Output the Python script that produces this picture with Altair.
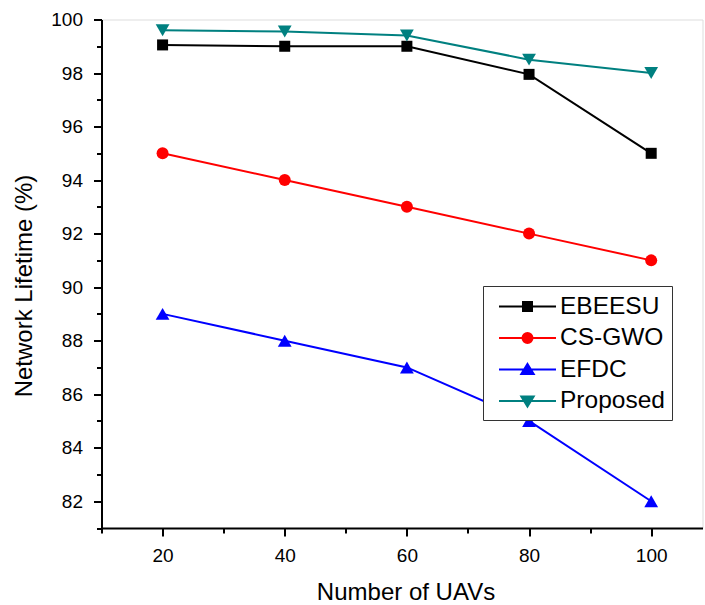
import altair as alt
import pandas as pd

# ---- data ----
uavs = [20, 40, 60, 80, 100]
ebeesu = [99.05, 99.0, 99.0, 97.95, 95.0]
cs_gwo = [95.0, 94.0, 93.0, 92.0, 91.0]
efdc = [89.0, 88.0, 87.0, 85.0, 82.0]
proposed = [99.6, 99.55, 99.4, 98.5, 98.0]

series_names = ["EBEESU", "CS-GWO", "EFDC", "Proposed"]
series_values = [ebeesu, cs_gwo, efdc, proposed]
series_colors = ["#000000", "#FF0000", "#0000FF", "#008080"]
marker_shapes = ["square", "circle", "triangle-up", "triangle-down"]
marker_sizes = [121, 144, 190, 190]

x_tick_values = [10, 20, 30, 40, 50, 60, 70, 80, 90, 100]
y_tick_values = list(range(81, 101))

# legend glyph: a line with a marker on it, drawn as a custom symbol path
SYM = 24.5            # symbol box side (px)
U = SYM / 2.0         # px per path unit


def u(px):
    return round(px / U, 4)


L = u(28.5)
sq = u(4.5)
cr = u(5.0)
tw = u(6.2)
th1 = u(5.6)
th2 = u(4.6)
legend_paths = [
    f"M{-L},0L{L},0M{-sq},{-sq}H{sq}V{sq}H{-sq}Z",
    f"M{-L},0L{L},0M{-cr},0A{cr},{cr} 0 1,0 {cr},0A{cr},{cr} 0 1,0 {-cr},0Z",
    f"M{-L},0L{L},0M0,{-th1}L{tw},{th2}L{-tw},{th2}Z",
    f"M{-L},0L{L},0M0,{th1}L{tw},{-th2}L{-tw},{-th2}Z",
]

rows = []
for name, vals in zip(series_names, series_values):
    for x, v in zip(uavs, vals):
        rows.append({"series": name, "uavs": x, "lifetime": v})
df = pd.DataFrame(rows)

FONT = "Liberation Sans"

x_axis = alt.Axis(
    values=x_tick_values,
    labelExpr="datum.value % 20 == 0 ? datum.label : ''",
    tickSize={"condition": {"test": "datum.value % 20 == 0", "value": 8}, "value": 5},
    tickWidth=2, tickColor="black", domainWidth=2, domainColor="black",
    labelFont=FONT, labelFontSize=19, labelColor="black", labelPadding=10,
    labelFlush=False, labelOverlap=False, grid=False,
    title="Number of UAVs", titleFont=FONT, titleFontSize=24, titleFontWeight="normal",
    titleColor="black", titleX=304, titleY=64, titleBaseline="middle", titleAlign="center",
)
y_axis = alt.Axis(
    values=y_tick_values,
    labelExpr="datum.value % 2 == 0 ? datum.label : ''",
    tickSize={"condition": {"test": "datum.value % 2 == 0", "value": 8}, "value": 5},
    tickWidth=2, tickColor="black", domainWidth=2, domainColor="black",
    labelFont=FONT, labelFontSize=19, labelColor="black", labelPadding=11,
    labelFlush=False, labelOverlap=False, grid=False,
    title="Network Lifetime (%)", titleFont=FONT, titleFontSize=24, titleFontWeight="normal",
    titleColor="black", titleAngle=270, titleX=-77, titleY=266, titleBaseline="middle",
    titleAlign="center",
)

base = alt.Chart(df).encode(
    x=alt.X("uavs:Q", scale=alt.Scale(domain=[10, 108.4], nice=False, zero=False), axis=x_axis),
    y=alt.Y("lifetime:Q", scale=alt.Scale(domain=[81, 100], nice=False, zero=False), axis=y_axis),
)

leg = dict(
    title=None, orient="none", legendX=381.5, legendY=266.5,
    strokeColor="#333333", fillColor="white", padding=7,
    labelFont=FONT, labelFontSize=24.5, labelColor="black", labelOffset=19,
    symbolSize=SYM * SYM, symbolStrokeWidth=2, symbolOffset=24, symbolOpacity=1,
    rowPadding=6.5, zindex=1,
)

# legend-only layer (tiny marks hidden under the visible markers)
legend_layer = base.mark_point(filled=True, size=1, strokeWidth=0, opacity=1).encode(
    fill=alt.Fill("series:N", scale=alt.Scale(domain=series_names, range=series_colors),
                  legend=alt.Legend(**leg)),
    stroke=alt.Stroke("series:N", scale=alt.Scale(domain=series_names, range=series_colors),
                      legend=alt.Legend(**leg)),
    shape=alt.Shape("series:N", scale=alt.Scale(domain=series_names, range=legend_paths),
                    legend=alt.Legend(**leg)),
)

lines = base.mark_line(strokeWidth=2).encode(
    color=alt.Color("series:N", scale=alt.Scale(domain=series_names, range=series_colors), legend=None)
)

point_layers = []
for name, col, shp, sz in zip(series_names, series_colors, marker_shapes, marker_sizes):
    point_layers.append(
        base.transform_filter(alt.datum.series == name).mark_point(
            filled=True, shape=shp, size=sz, color=col, opacity=1
        )
    )

chart = alt.layer(legend_layer, lines, *point_layers).properties(
    width=601, height=508.5,
    autosize=alt.AutoSizeParams(type="none"),
    padding={"left": 101.5, "top": 19.5, "right": 2.5, "bottom": 77},
).configure_view(stroke=None).configure(background="white")

chart.save("out.html", embed_options={"renderer": "svg", "actions": False})
